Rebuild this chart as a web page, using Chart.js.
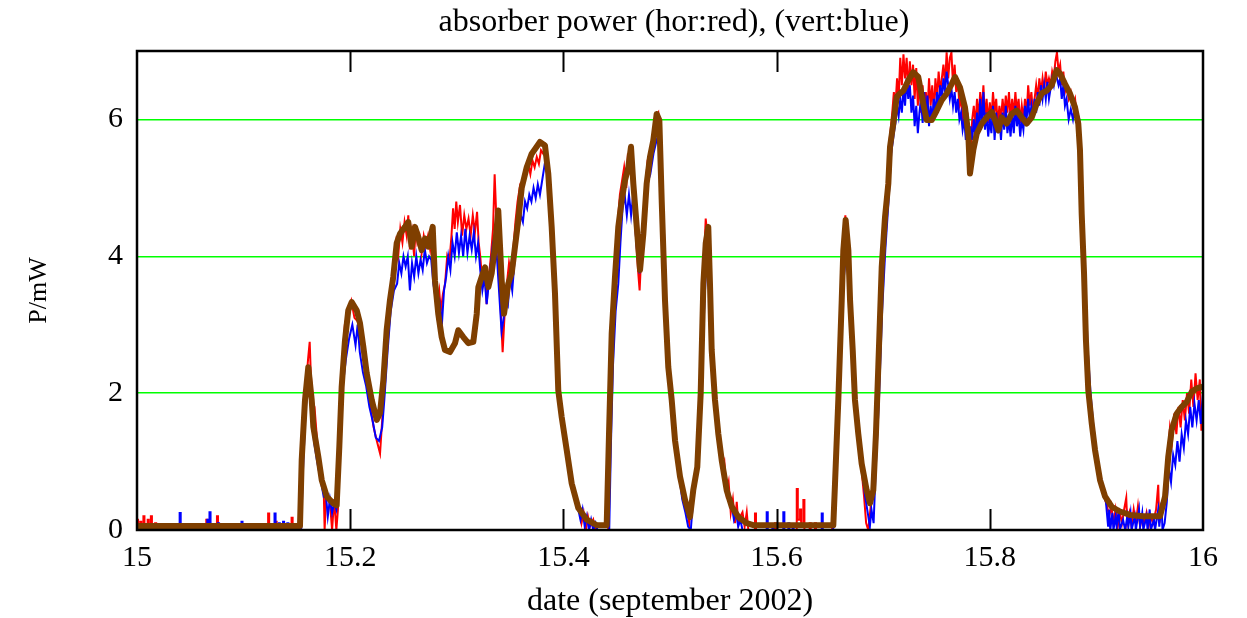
<!DOCTYPE html>
<html>
<head>
<meta charset="utf-8">
<title>absorber power</title>
<script src="https://cdn.jsdelivr.net/npm/chart.js@4.4.1/dist/chart.umd.min.js"></script>
<style>
  html, body { margin: 0; padding: 0; background: #fff; }
  #wrap { width: 1247px; height: 618px; }
</style>
</head>
<body>
<div id="wrap"><canvas id="grafico" width="1247" height="618"></canvas></div>
<script>
// axis ticks
const xTicks = [15, 15.2, 15.4, 15.6, 15.8, 16];
const yTicks = [0, 2, 4, 6];

// averaged power (brown), [date, P/mW]
const mediaPontos = [
  [15.0000,0.06],[15.1529,0.06],[15.1545,1.02],[15.1576,1.90],[15.1607,2.38],[15.1639,1.90],[15.1654,1.51],
  [15.1701,1.07],[15.1733,0.73],[15.1780,0.49],[15.1841,0.39],[15.1873,0.36],[15.1898,1.22],[15.1920,2.09],
  [15.1951,2.77],[15.1982,3.21],[15.2014,3.33],[15.2061,3.21],[15.2092,3.02],[15.2123,2.68],[15.2155,2.29],
  [15.2202,1.90],[15.2249,1.61],[15.2280,1.71],[15.2311,2.19],[15.2342,2.92],[15.2373,3.36],[15.2404,3.70],
  [15.2436,4.19],[15.2467,4.33],[15.2514,4.43],[15.2545,4.50],[15.2577,4.14],[15.2608,4.43],[15.2639,4.28],
  [15.2671,4.09],[15.2702,4.26],[15.2733,4.14],[15.2774,4.43],[15.2795,3.65],[15.2826,3.16],[15.2858,2.82],
  [15.2889,2.63],[15.2936,2.60],[15.2983,2.73],[15.3014,2.92],[15.3061,2.82],[15.3108,2.73],[15.3155,2.75],
  [15.3187,3.16],[15.3202,3.55],[15.3234,3.70],[15.3265,3.84],[15.3296,3.55],[15.3327,3.75],[15.3358,4.14],
  [15.3389,4.67],[15.3421,3.65],[15.3443,3.16],[15.3483,3.60],[15.3515,3.75],[15.3546,4.14],[15.3577,4.53],
  [15.3609,5.00],[15.3656,5.30],[15.3703,5.50],[15.3749,5.60],[15.3780,5.67],[15.3827,5.62],[15.3858,5.21],
  [15.3890,4.43],[15.3921,3.46],[15.3952,2.04],[15.3984,1.65],[15.4031,1.17],[15.4078,0.68],[15.4140,0.32],
  [15.4219,0.15],[15.4312,0.07],[15.4406,0.07],[15.4428,1.41],[15.4453,2.87],[15.4484,3.70],[15.4515,4.43],
  [15.4547,4.82],[15.4578,5.11],[15.4609,5.30],[15.4634,5.60],[15.4656,5.06],[15.4688,4.43],[15.4719,3.80],
  [15.4750,4.33],[15.4781,5.06],[15.4812,5.45],[15.4843,5.69],[15.4875,6.08],[15.4900,5.99],[15.4922,4.82],
  [15.4953,3.36],[15.4984,2.38],[15.5016,1.90],[15.5047,1.31],[15.5094,0.78],[15.5141,0.44],[15.5188,0.19],
  [15.5218,0.58],[15.5256,0.92],[15.5288,2.00],[15.5313,3.60],[15.5335,4.19],[15.5359,4.43],[15.5375,3.60],
  [15.5391,2.63],[15.5422,1.90],[15.5453,1.41],[15.5485,1.02],[15.5532,0.58],[15.5579,0.34],[15.5641,0.19],
  [15.5719,0.10],[15.5781,0.07],[15.6532,0.07],[15.6548,0.68],[15.6579,1.90],[15.6611,3.36],[15.6626,4.09],
  [15.6648,4.53],[15.6673,4.09],[15.6689,3.36],[15.6714,2.63],[15.6735,1.90],[15.6766,1.41],[15.6798,0.97],
  [15.6845,0.58],[15.6876,0.39],[15.6907,0.58],[15.6932,1.41],[15.6954,2.38],[15.6986,3.84],[15.7017,4.57],
  [15.7048,5.06],[15.7064,5.60],[15.7095,5.94],[15.7127,6.33],[15.7158,6.38],[15.7189,6.42],[15.7235,6.57],
  [15.7282,6.69],[15.7329,6.62],[15.7376,6.23],[15.7408,5.99],[15.7455,5.99],[15.7502,6.13],[15.7549,6.28],
  [15.7596,6.38],[15.7643,6.52],[15.7674,6.62],[15.7720,6.47],[15.7767,6.18],[15.7798,5.79],[15.7814,5.21],
  [15.7845,5.55],[15.7877,5.79],[15.7924,5.94],[15.7971,6.03],[15.8018,6.11],[15.8049,5.99],[15.8080,5.84],
  [15.8111,6.03],[15.8158,5.94],[15.8205,6.08],[15.8252,6.13],[15.8299,6.03],[15.8346,5.94],[15.8393,6.03],
  [15.8440,6.23],[15.8487,6.38],[15.8534,6.42],[15.8581,6.50],[15.8627,6.72],[15.8659,6.67],[15.8705,6.52],
  [15.8752,6.38],[15.8799,6.18],[15.8830,5.94],[15.8846,5.55],[15.8862,4.62],[15.8884,3.75],[15.8902,2.77],
  [15.8924,2.04],[15.8956,1.56],[15.8987,1.17],[15.9034,0.73],[15.9081,0.49],[15.9143,0.34],[15.9221,0.27],
  [15.9315,0.22],[15.9440,0.20],[15.9597,0.20],[15.9644,0.49],[15.9674,1.07],[15.9706,1.46],[15.9753,1.70],
  [15.9800,1.80],[15.9847,1.87],[15.9894,2.02],[15.9941,2.07],[15.9988,2.09],[16.0000,2.10]
];

// horizontal polarisation (red), [date, P/mW]
const horPontos = [
  [15.000,0.15],[15.001,0.15],[15.001,0],[15.003,0],[15.003,0.12],[15.004,0.12],[15.004,0],
  [15.006,0],[15.006,0.2],[15.007,0.2],[15.007,0],[15.010,0],[15.010,0.15],[15.011,0.15],[15.011,0],
  [15.013,0],[15.013,0.2],[15.014,0.2],[15.014,0],[15.017,0],[15.017,0.1],[15.018,0.1],[15.018,0],
  [15.022,0],[15.022,0.08],[15.023,0.08],[15.023,0],[15.065,0],[15.065,0.15],[15.066,0.15],[15.066,0],
  [15.075,0],[15.075,0.2],[15.076,0.2],[15.076,0],[15.100,0],[15.100,0.08],[15.101,0.08],[15.101,0],
  [15.109,0],[15.109,0.08],[15.110,0.08],[15.110,0],[15.123,0],[15.123,0.24],[15.124,0.24],[15.124,0],
  [15.130,0],[15.130,0.12],[15.131,0.12],[15.131,0],[15.145,0],[15.145,0.18],[15.146,0.18],[15.146,0],
  [15.153,0],
  [15.1545,0.9],[15.1576,1.95],[15.1605,2.5],[15.1620,2.75],[15.1630,2.3],[15.1645,1.9],[15.1665,1.8],
  [15.1690,1.3],[15.1720,0.9],[15.1750,0.7],[15.1760,0],[15.1775,0.5],[15.1800,0.45],[15.1815,0.3],
  [15.1830,0],[15.1850,0.45],[15.1870,0],[15.1885,0.3],
  [15.1900,1.4],[15.1920,2.3],[15.1950,3.0],[15.1980,3.2],[15.2010,3.35],[15.2040,3.1],[15.2070,3.05],
  [15.2090,2.9],[15.2120,2.6],[15.2150,2.2],[15.2180,1.9],[15.2220,1.5],[15.2250,1.3],[15.2280,1.12],
  [15.2300,1.6],[15.2320,2.3],[15.2340,2.9],[15.2370,3.4],[15.2400,3.8],
  [15.2430,4.2],[15.2450,4.0],[15.2470,4.4],[15.2490,4.2],[15.2510,4.5],[15.2530,4.3],[15.2545,4.6],
  [15.2560,4.1],[15.2580,4.35],[15.2600,4.0],[15.2615,4.45],[15.2630,4.2],[15.2650,4.3],[15.2670,4.05],
  [15.2690,4.3],[15.2710,4.15],[15.2730,4.3],[15.2750,4.1],[15.2775,4.45],
  [15.2795,3.8],[15.2815,3.3],[15.2835,3.5],[15.2850,3.2],[15.2870,3.45],[15.2890,3.6],[15.2910,4.0],
  [15.2930,3.9],[15.2950,4.3],[15.2965,4.7],[15.2980,4.4],[15.2995,4.8],[15.3010,4.5],[15.3030,4.75],
  [15.3050,4.3],[15.3070,4.6],[15.3090,4.4],[15.3110,4.55],[15.3130,4.3],[15.3150,4.6],[15.3170,4.35],
  [15.3190,4.65],[15.3205,4.2],[15.3220,4.0],[15.3240,3.6],[15.3260,3.85],[15.3280,3.3],[15.3300,3.7],
  [15.3320,4.0],[15.3340,4.4],[15.3355,5.2],[15.3370,4.6],[15.3390,4.0],[15.3410,3.3],[15.3430,2.6],
  [15.3450,3.2],[15.3470,3.6],[15.3490,3.9],[15.3510,3.7],[15.3530,4.1],[15.3550,4.5],[15.3570,4.8],
  [15.3590,5.0],[15.3610,4.85],[15.3630,5.1],[15.3650,5.2],[15.3670,5.35],[15.3690,5.2],[15.3710,5.4],
  [15.3730,5.3],[15.3750,5.45],[15.3770,5.35],[15.3790,5.55],[15.3810,5.5],[15.3830,5.6],[15.3850,5.3],
  [15.3870,4.9],[15.3890,4.4],[15.3910,3.6],[15.3930,2.6],[15.3950,2.0],[15.3970,1.7],[15.4000,1.4],
  [15.4030,1.15],[15.4060,0.85],[15.4090,0.55],[15.4120,0.4],[15.4150,0.3],[15.4170,0.1],[15.4190,0.25],
  [15.4210,0],[15.4230,0.2],[15.4250,0.05],[15.4280,0.15],[15.4300,0],[15.4420,0],
  [15.4435,1.5],[15.4455,2.9],[15.4485,3.8],[15.4510,4.5],[15.4530,4.9],[15.4550,5.1],[15.4570,5.3],
  [15.4590,5.0],[15.4605,5.5],[15.4620,5.2],[15.4640,5.5],[15.4660,5.0],[15.4680,4.3],[15.4700,3.8],
  [15.4715,3.5],[15.4730,4.0],[15.4750,4.4],[15.4770,5.0],[15.4790,5.4],[15.4810,5.5],[15.4840,5.75],
  [15.4870,6.05],[15.4890,6.1],[15.4910,5.6],[15.4930,4.6],[15.4950,3.4],[15.4980,2.4],[15.5010,1.95],
  [15.5040,1.4],[15.5070,1.0],[15.5100,0.7],[15.5130,0.45],[15.5160,0.3],[15.5180,0.1],[15.5200,0.5],
  [15.5230,0.7],[15.5255,1.0],[15.5285,2.1],[15.5310,3.6],[15.5335,4.55],[15.5350,4.3],[15.5370,3.5],
  [15.5390,2.7],[15.5420,1.9],[15.5450,1.4],[15.5475,1.15],[15.5490,0.9],[15.5510,1.0],[15.5530,0.55],
  [15.5550,0.7],[15.5570,0.25],[15.5590,0.45],[15.5610,0.1],[15.5626,0.41],[15.5640,0.1],[15.5660,0.2],
  [15.5680,0.26],[15.5700,0.05],[15.5720,0.26],[15.5735,0],
  [15.5797,0],[15.5797,0.24],[15.5807,0.24],[15.5807,0],[15.5985,0],[15.5985,0.1],[15.5995,0.1],
  [15.5995,0],[15.6189,0],[15.6189,0.6],[15.6199,0.6],[15.6199,0.15],[15.6220,0.15],[15.6220,0.3],
  [15.6230,0.3],[15.6230,0.05],[15.6251,0.05],[15.6251,0.44],[15.6261,0.44],[15.6261,0],[15.6310,0],
  [15.6310,0.1],[15.6320,0.1],[15.6320,0],[15.6360,0],[15.6360,0.1],[15.6370,0.1],[15.6370,0],[15.6520,0],
  [15.6540,0.7],[15.6570,1.9],[15.6600,3.3],[15.6620,4.1],[15.6645,4.6],[15.6670,4.1],[15.6690,3.4],
  [15.6710,2.7],[15.6730,2.0],[15.6760,1.5],[15.6790,1.0],[15.6820,0.5],[15.6840,0.1],[15.6860,0],
  [15.6880,0.3],[15.6900,0.6],[15.6925,1.4],[15.6950,2.4],[15.6980,3.9],[15.7010,4.6],[15.7040,5.1],
  [15.7060,5.7],[15.7085,6.1],
  [15.7100,6.4],[15.7115,6.2],[15.7130,6.6],[15.7145,6.3],[15.7160,6.9],[15.7175,6.5],[15.7190,6.95],
  [15.7205,6.6],[15.7220,6.9],[15.7235,6.4],[15.7250,6.85],[15.7265,6.5],[15.7280,6.8],[15.7295,6.3],
  [15.7310,6.75],[15.7325,6.2],[15.7340,6.6],[15.7355,6.1],[15.7370,6.5],[15.7385,6.0],[15.7400,6.4],
  [15.7415,6.1],[15.7430,6.6],[15.7445,6.2],[15.7460,6.5],[15.7475,6.1],[15.7490,6.6],[15.7505,6.3],
  [15.7520,6.7],[15.7535,6.4],[15.7550,6.6],[15.7565,6.8],[15.7580,6.5],[15.7595,6.98],[15.7610,6.6],
  [15.7625,6.9],[15.7640,6.98],[15.7655,6.5],[15.7670,6.8],[15.7685,6.4],[15.7700,6.6],[15.7715,6.2],
  [15.7730,6.3],[15.7745,6.0],[15.7760,6.15],[15.7775,5.9],[15.7790,6.1],[15.7805,5.8],[15.7820,5.5],
  [15.7835,6.0],[15.7850,6.2],[15.7865,5.9],[15.7880,6.3],[15.7895,6.0],[15.7910,6.4],[15.7925,6.1],
  [15.7940,6.5],[15.7955,6.0],[15.7970,6.3],[15.7985,5.95],[15.8000,6.25],[15.8015,6.0],[15.8030,6.4],
  [15.8045,6.1],[15.8060,6.3],[15.8075,5.9],[15.8090,6.2],[15.8105,6.0],[15.8120,6.3],[15.8135,6.05],
  [15.8150,6.35],[15.8165,6.1],[15.8180,6.4],[15.8195,6.0],[15.8210,6.3],[15.8225,6.05],[15.8240,6.4],
  [15.8255,6.1],[15.8270,6.3],[15.8285,5.95],[15.8300,6.2],[15.8315,6.0],[15.8330,6.3],[15.8345,6.05],
  [15.8360,6.5],[15.8375,6.2],[15.8390,6.4],[15.8405,6.1],[15.8420,6.3],[15.8435,6.5],[15.8450,6.3],
  [15.8465,6.6],[15.8480,6.4],[15.8495,6.6],[15.8510,6.4],[15.8525,6.7],[15.8540,6.5],[15.8555,6.6],
  [15.8570,6.5],[15.8585,6.7],[15.8600,6.6],[15.8615,6.85],[15.8630,6.98],[15.8645,6.7],[15.8660,6.8],
  [15.8675,6.5],[15.8690,6.7],[15.8705,6.4],[15.8720,6.5],[15.8740,6.3],[15.8760,6.4],[15.8780,6.2],
  [15.8800,6.3],[15.8820,6.0],[15.8835,5.8],[15.8850,5.3],
  [15.8865,4.5],[15.8885,3.6],[15.8905,2.7],[15.8925,2.0],[15.8955,1.6],[15.8985,1.15],[15.9010,0.9],
  [15.9035,0.7],[15.9060,0.6],[15.9080,0.45],[15.9100,0.35],
  [15.9120,0.2],[15.9140,0.35],[15.9160,0.1],[15.9180,0.3],[15.9200,0.05],[15.9220,0.25],[15.9240,0.1],
  [15.9260,0.3],[15.9280,0.47],[15.9290,0.1],[15.9310,0.25],[15.9330,0.05],[15.9350,0.3],[15.9370,0.1],
  [15.9390,0.35],[15.9410,0.05],[15.9430,0.2],[15.9450,0.1],[15.9470,0.25],[15.9490,0.05],[15.9510,0.2],
  [15.9530,0.1],[15.9560,0.3],[15.9580,0.66],[15.9590,0.1],[15.9610,0.3],[15.9630,0.4],
  [15.9650,0.7],[15.9670,1.1],[15.9690,1.5],[15.9710,1.3],[15.9730,1.7],[15.9750,1.4],[15.9770,1.8],
  [15.9790,1.5],[15.9810,1.9],[15.9830,1.6],[15.9850,2.0],[15.9870,1.7],[15.9890,2.2],[15.9910,1.8],
  [15.9930,2.29],[15.9950,1.9],[15.9970,2.2],[15.9985,1.45],[16.0000,1.9]
];

// vertical polarisation (blue), [date, P/mW]
const vertPontos = [
  [15.000,0.05],[15.002,0],[15.040,0],[15.040,0.25],[15.041,0.25],[15.041,0],
  [15.066,0],[15.066,0.15],[15.067,0.15],[15.067,0.05],[15.068,0.05],[15.068,0.26],[15.069,0.26],[15.069,0],
  [15.076,0],[15.076,0.1],[15.077,0.1],[15.077,0],[15.098,0],[15.098,0.12],[15.099,0.12],[15.099,0],
  [15.103,0],[15.103,0.08],[15.104,0.08],[15.104,0],[15.129,0],[15.129,0.24],[15.130,0.24],[15.130,0],
  [15.133,0],[15.133,0.1],[15.134,0.1],[15.134,0],[15.137,0],[15.137,0.12],[15.138,0.12],[15.138,0],
  [15.141,0],[15.141,0.1],[15.142,0.1],[15.142,0],[15.1540,0],
  [15.1555,0.8],[15.1580,1.7],[15.1605,2.2],[15.1620,2.3],[15.1640,1.8],[15.1660,1.3],[15.1690,1.0],
  [15.1720,0.75],[15.1750,0.5],[15.1770,0.55],[15.1790,0.2],[15.1810,0.45],[15.1830,0.25],[15.1850,0.4],
  [15.1870,0.3],[15.1890,0.6],
  [15.1910,1.5],[15.1930,2.1],[15.1960,2.5],[15.1990,2.8],[15.2020,3.0],[15.2050,2.7],[15.2070,3.0],
  [15.2090,2.6],[15.2120,2.3],[15.2150,2.1],[15.2180,1.8],[15.2210,1.6],[15.2240,1.35],[15.2270,1.3],
  [15.2300,1.5],[15.2320,1.9],[15.2350,2.6],[15.2380,3.2],[15.2410,3.5],
  [15.2440,3.6],[15.2460,3.9],[15.2480,3.75],[15.2500,4.0],[15.2520,3.85],[15.2540,4.0],[15.2560,3.5],
  [15.2580,3.9],[15.2600,3.7],[15.2620,4.0],[15.2640,3.75],[15.2660,3.95],[15.2680,3.8],[15.2700,4.1],
  [15.2720,3.9],[15.2740,4.0],[15.2760,3.95],[15.2780,3.6],[15.2800,3.4],[15.2820,3.1],[15.2840,3.3],
  [15.2860,3.0],[15.2880,3.5],[15.2900,3.7],[15.2920,4.0],[15.2940,3.8],[15.2960,4.2],[15.2980,4.0],
  [15.3000,4.35],[15.3020,4.05],[15.3040,4.3],[15.3060,4.0],[15.3080,4.4],[15.3100,4.05],[15.3120,4.3],
  [15.3140,4.1],[15.3160,4.35],[15.3180,4.0],[15.3200,4.2],[15.3220,3.8],[15.3240,3.5],[15.3260,3.7],
  [15.3280,3.3],[15.3300,3.6],[15.3320,3.9],[15.3340,4.2],[15.3360,4.3],[15.3380,3.9],[15.3400,3.4],
  [15.3420,2.9],[15.3440,3.1],[15.3460,3.4],[15.3480,3.3],[15.3500,3.7],[15.3520,3.5],[15.3540,3.9],
  [15.3560,4.3],[15.3580,4.4],[15.3600,4.6],[15.3620,4.5],[15.3640,4.8],[15.3660,4.7],[15.3680,4.9],
  [15.3700,4.8],[15.3720,5.0],[15.3740,4.85],[15.3760,5.05],[15.3780,4.9],[15.3800,5.1],[15.3820,5.3],
  [15.3840,5.5],[15.3860,5.1],
  [15.3880,4.6],[15.3900,4.0],[15.3920,3.2],[15.3940,2.4],[15.3960,2.0],[15.3990,1.6],[15.4020,1.3],
  [15.4050,1.0],[15.4080,0.7],[15.4110,0.45],[15.4140,0.3],[15.4160,0.15],[15.4180,0.3],[15.4200,0.05],
  [15.4220,0.2],[15.4240,0],[15.4260,0.15],[15.4280,0],[15.4300,0.1],[15.4320,0],[15.4430,0],
  [15.4445,1.2],[15.4465,2.4],[15.4490,3.2],[15.4515,3.6],[15.4535,4.2],[15.4555,4.7],[15.4575,4.9],
  [15.4595,4.6],[15.4615,4.9],[15.4635,4.6],[15.4655,4.9],[15.4675,4.4],[15.4695,4.0],[15.4715,3.75],
  [15.4735,4.2],[15.4755,4.6],[15.4775,4.9],[15.4795,5.1],[15.4815,5.2],[15.4845,5.5],[15.4875,5.7],
  [15.4895,5.8],[15.4920,5.3],[15.4945,4.3],[15.4965,3.3],[15.4995,2.3],[15.5025,1.7],[15.5055,1.2],
  [15.5085,0.8],[15.5115,0.45],[15.5145,0.25],[15.5170,0.05],[15.5195,0],[15.5215,0.4],
  [15.5240,0.7],[15.5270,1.1],[15.5295,2.0],[15.5320,3.2],[15.5340,3.9],[15.5360,4.0],[15.5380,3.3],
  [15.5400,2.5],[15.5430,1.8],[15.5460,1.4],[15.5490,1.0],[15.5520,0.75],[15.5550,0.5],[15.5580,0.35],
  [15.5600,0.15],[15.5620,0.25],[15.5640,0.05],[15.5660,0.15],[15.5680,0],
  [15.5907,0],[15.5907,0.26],[15.5917,0.26],[15.5917,0],[15.5960,0],[15.5960,0.06],[15.5970,0.06],
  [15.5970,0],[15.6063,0],[15.6063,0.26],[15.6073,0.26],[15.6073,0],[15.6110,0],[15.6110,0.1],
  [15.6120,0.1],[15.6120,0],[15.6150,0],[15.6150,0.06],[15.6160,0.06],[15.6160,0],[15.6423,0],
  [15.6423,0.24],[15.6433,0.24],[15.6433,0],[15.6530,0],
  [15.6550,0.3],[15.6575,1.4],[15.6605,2.9],[15.6625,3.6],[15.6650,4.0],[15.6675,3.8],[15.6695,3.1],
  [15.6715,2.3],[15.6740,1.8],[15.6770,1.3],[15.6800,0.9],[15.6830,0.5],[15.6855,0.25],[15.6875,0.05],
  [15.6890,0.3],[15.6910,0.1],[15.6930,0.9],[15.6960,1.9],[15.6990,3.2],[15.7020,4.1],[15.7050,4.8],
  [15.7075,5.5],[15.7100,5.8],
  [15.7115,5.95],[15.7130,6.2],[15.7145,6.05],[15.7160,6.3],[15.7175,6.1],[15.7190,6.45],[15.7205,6.2],
  [15.7220,6.6],[15.7235,6.3],[15.7250,6.5],[15.7265,6.1],[15.7280,6.35],[15.7295,5.9],[15.7310,6.2],
  [15.7325,5.8],[15.7340,6.1],[15.7355,6.3],[15.7370,5.95],[15.7385,6.4],[15.7400,6.0],[15.7415,6.35],
  [15.7430,5.9],[15.7445,6.2],[15.7460,6.0],[15.7475,6.3],[15.7490,6.1],[15.7505,6.4],[15.7520,6.2],
  [15.7535,6.5],[15.7550,6.3],[15.7565,6.6],[15.7580,6.4],[15.7595,6.7],[15.7610,6.5],[15.7625,6.3],
  [15.7640,6.45],[15.7655,6.2],[15.7670,6.4],[15.7685,6.1],[15.7700,6.3],[15.7715,6.0],[15.7730,6.1],
  [15.7745,5.85],[15.7760,6.0],[15.7775,5.7],[15.7790,5.9],[15.7805,5.6],[15.7820,5.9],[15.7835,5.7],
  [15.7850,6.0],[15.7865,5.75],[15.7880,6.1],[15.7895,5.8],[15.7910,6.3],[15.7925,5.9],[15.7940,6.4],
  [15.7955,5.85],[15.7970,6.1],[15.7985,5.75],[15.8000,6.0],[15.8015,5.8],[15.8030,6.2],[15.8045,5.7],
  [15.8060,6.1],[15.8075,5.8],[15.8090,6.0],[15.8105,5.7],[15.8120,6.1],[15.8135,5.85],[15.8150,6.2],
  [15.8165,5.8],[15.8180,6.0],[15.8195,5.75],[15.8210,6.1],[15.8225,5.8],[15.8240,6.2],[15.8255,5.9],
  [15.8270,6.1],[15.8285,5.75],[15.8300,6.0],[15.8315,5.85],[15.8330,6.2],[15.8345,6.0],[15.8360,6.3],
  [15.8375,6.0],[15.8390,6.2],[15.8405,6.0],[15.8420,6.3],[15.8435,6.1],[15.8450,6.4],[15.8465,6.2],
  [15.8480,6.5],[15.8495,6.3],[15.8510,6.5],[15.8525,6.3],[15.8540,6.55],[15.8555,6.3],[15.8570,6.45],
  [15.8585,6.6],[15.8600,6.5],[15.8615,6.7],[15.8630,6.6],[15.8645,6.5],[15.8660,6.6],[15.8675,6.3],
  [15.8690,6.5],[15.8705,6.2],[15.8720,6.3],[15.8740,6.0],[15.8760,6.15],[15.8780,6.0],[15.8800,6.2],
  [15.8820,6.1],[15.8840,6.0],[15.8860,5.2],
  [15.8880,4.2],[15.8900,3.4],[15.8920,2.6],[15.8945,2.0],[15.8970,1.55],[15.8995,1.2],[15.9020,0.95],
  [15.9045,0.75],[15.9070,0.55],[15.9090,0.4],[15.9110,0.05],
  [15.9120,0.3],[15.9130,0],[15.9150,0.25],[15.9160,0],[15.9180,0.2],[15.9190,0.05],[15.9210,0.3],
  [15.9220,0],[15.9250,0.15],[15.9270,0],[15.9290,0.2],[15.9300,0.05],[15.9320,0.25],[15.9330,0],
  [15.9360,0.2],[15.9370,0],[15.9400,0.3],[15.9410,0.05],[15.9430,0.25],[15.9440,0],[15.9470,0.2],
  [15.9480,0],[15.9500,0.3],[15.9510,0],[15.9540,0.15],[15.9550,0],[15.9580,0.3],[15.9590,0.05],
  [15.9610,0.4],[15.9620,0],[15.9640,0.1],
  [15.9660,0.4],[15.9680,0.9],[15.9700,0.7],[15.9720,1.1],[15.9740,0.95],[15.9760,1.3],[15.9780,1.0],
  [15.9800,1.4],[15.9820,1.2],[15.9840,1.6],[15.9860,1.4],[15.9880,1.8],[15.9900,1.5],[15.9920,1.85],
  [15.9940,1.6],[15.9960,1.9],[15.9980,1.55],[16.0000,2.0]
];

const fonte = "'Liberation Serif', 'DejaVu Serif', serif";

// frame round the plot, inward tick marks and the title on top
const moldura = {
  id: "moldura",
  afterDraw(chart) {
    const { ctx, chartArea: a, scales } = chart;
    ctx.save();
    ctx.strokeStyle = "#000";
    ctx.lineWidth = 2;
    xTicks.slice(1, -1).forEach(v => {
      const px = Math.round(scales.x.getPixelForValue(v)) + 0.5;
      ctx.beginPath();
      ctx.moveTo(px, a.top);
      ctx.lineTo(px, a.top + 21);
      ctx.moveTo(px, a.bottom);
      ctx.lineTo(px, a.bottom - 21);
      ctx.stroke();
    });
    ctx.lineWidth = 2.5;
    ctx.strokeRect(a.left, a.top, a.right - a.left, a.bottom - a.top);
    ctx.fillStyle = "#000";
    ctx.font = "32px " + fonte;
    ctx.textAlign = "center";
    ctx.textBaseline = "middle";
    ctx.fillText("absorber power (hor:red), (vert:blue)", (a.left + a.right) / 2 + 4, 23);
    ctx.restore();
  }
};

const grafico = new Chart(document.getElementById("grafico"), {
  type: "line",
  data: {
    datasets: [
      { label: "media", data: mediaPontos, borderColor: "#7f3f00", borderWidth: 6, borderJoinStyle: "round" },
      { label: "vert", data: vertPontos, borderColor: "#0000ff", borderWidth: 2 },
      { label: "hor", data: horPontos, borderColor: "#ff0000", borderWidth: 2 }
    ]
  },
  options: {
    responsive: false,
    animation: false,
    devicePixelRatio: 1,
    layout: { padding: { top: 51, right: 44, left: 0, bottom: 0 } },
    elements: { point: { radius: 0 }, line: { tension: 0 } },
    plugins: {
      legend: { display: false },
      tooltip: { enabled: false }
    },
    scales: {
      x: {
        type: "linear",
        min: 15,
        max: 16,
        afterBuildTicks: axis => { axis.ticks = xTicks.map(v => ({ value: v })); },
        afterFit: axis => { axis.height = 88; },
        grid: { display: false, drawTicks: false },
        border: { display: false },
        ticks: {
          color: "#000",
          padding: 10,
          maxRotation: 0,
          font: { family: fonte, size: 30 },
          callback: v => String(v)
        },
        title: {
          display: true,
          text: "date (september 2002)",
          color: "#000",
          font: { family: fonte, size: 32, lineHeight: 1 },
          padding: { top: 0, bottom: 0 }
        }
      },
      y: {
        type: "linear",
        min: 0,
        max: 7,
        afterBuildTicks: axis => { axis.ticks = yTicks.map(v => ({ value: v })); },
        afterFit: axis => { axis.width = 137; },
        grid: { color: "#00ff00", lineWidth: 1.5, drawTicks: false },
        border: { display: false },
        ticks: {
          color: "#000",
          padding: 14,
          font: { family: fonte, size: 30 },
          callback: v => String(v)
        },
        title: {
          display: true,
          text: "P/mW",
          color: "#000",
          font: { family: fonte, size: 26 },
          padding: { top: 24, bottom: 0 }
        }
      }
    }
  },
  plugins: [moldura]
});
</script>
</body>
</html>
